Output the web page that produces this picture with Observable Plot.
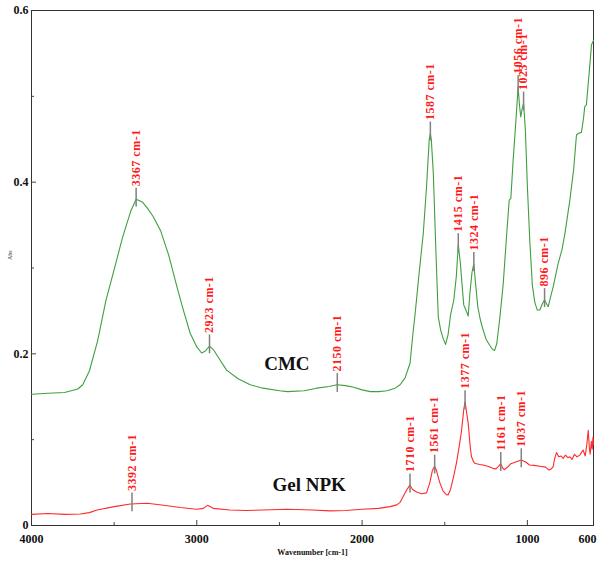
<!DOCTYPE html>
<html><head><meta charset="utf-8">
<script src="https://cdn.jsdelivr.net/npm/d3@7"></script>
<script src="https://cdn.jsdelivr.net/npm/@observablehq/plot@0.6"></script>
<style>body{margin:0;background:#fff} #chart svg{display:block}</style>
</head><body><div id="chart"></div>
<script>
const cmcWavenumber = [4000,3900,3800,3760,3720,3690,3650,3600,3550,3500,3450,3400,3367,3330,3300,3264,3218,3170,3120,3080,3040,3000,2971,2950,2923,2900,2870,2820,2750,2677,2600,2500,2450,2350,2275,2200,2150,2100,2050,2000,1950,1900,1850,1800,1770,1740,1710,1690,1680,1655,1630,1610,1594,1587,1581,1569,1553,1539,1525,1510,1495,1480,1465,1445,1430,1418,1405,1395,1385,1370,1358,1348,1335,1324,1315,1300,1285,1268,1250,1228,1210,1198,1185,1166,1146,1125,1110,1100,1086,1070,1056,1048,1040,1032,1023,1012,1000,985,970,955,940,925,910,896,884,874,860,844,814,790,773,743,720,703,690,673,660,653,643,625,612,600];
const cmcAbs = [0.153,0.154,0.155,0.157,0.159,0.164,0.180,0.215,0.262,0.298,0.335,0.366,0.380,0.377,0.370,0.360,0.343,0.315,0.278,0.250,0.224,0.208,0.201,0.203,0.209,0.205,0.196,0.181,0.171,0.164,0.160,0.157,0.156,0.157,0.160,0.162,0.164,0.163,0.161,0.158,0.156,0.156,0.157,0.160,0.164,0.172,0.189,0.228,0.245,0.294,0.340,0.395,0.449,0.457,0.449,0.410,0.317,0.243,0.228,0.218,0.211,0.222,0.245,0.263,0.290,0.327,0.305,0.280,0.257,0.250,0.244,0.270,0.295,0.305,0.285,0.255,0.240,0.228,0.217,0.210,0.205,0.204,0.212,0.243,0.282,0.340,0.379,0.381,0.426,0.470,0.511,0.490,0.476,0.485,0.492,0.460,0.395,0.330,0.280,0.260,0.251,0.251,0.258,0.263,0.258,0.255,0.266,0.278,0.305,0.322,0.340,0.379,0.415,0.455,0.457,0.458,0.475,0.488,0.490,0.530,0.560,0.565];

const gelWavenumber = [4000,3900,3800,3704,3650,3603,3500,3402,3300,3200,3100,3000,2960,2935,2900,2800,2700,2600,2455,2300,2193,2100,2000,1900,1831,1790,1770,1745,1725,1710,1695,1670,1640,1610,1590,1575,1561,1550,1530,1510,1490,1480,1465,1445,1429,1410,1398,1385,1377,1368,1358,1345,1338,1325,1318,1290,1268,1240,1208,1190,1175,1161,1150,1140,1120,1100,1070,1037,1010,987,960,925,890,869,855,844,835,824,810,795,784,770,755,743,730,715,700,683,670,663,650,640,632,625,620,613,608,603,600];
const gelAbs = [0.013,0.014,0.013,0.0134,0.015,0.018,0.022,0.025,0.026,0.0235,0.021,0.019,0.020,0.0235,0.020,0.018,0.0175,0.018,0.019,0.018,0.017,0.0175,0.019,0.020,0.022,0.024,0.027,0.036,0.043,0.047,0.042,0.039,0.037,0.038,0.050,0.064,0.069,0.064,0.050,0.040,0.036,0.0355,0.042,0.058,0.073,0.095,0.111,0.135,0.144,0.132,0.119,0.090,0.080,0.074,0.0725,0.071,0.0705,0.069,0.0666,0.066,0.069,0.072,0.067,0.065,0.068,0.072,0.074,0.0763,0.074,0.0705,0.070,0.069,0.068,0.0646,0.066,0.0685,0.078,0.085,0.080,0.081,0.078,0.082,0.079,0.080,0.077,0.083,0.080,0.082,0.086,0.088,0.081,0.095,0.111,0.090,0.083,0.098,0.089,0.103,0.094];

const cmcPeakWavenumber = [3367,2923,2150,1587,1418,1324,1056,1023,896];
const cmcPeakAbs = [0.380,0.209,0.164,0.457,0.327,0.305,0.511,0.492,0.263];
const cmcPeakLabels = ["3367 cm-1","2923 cm-1","2150 cm-1","1587 cm-1","1415 cm-1","1324 cm-1","1056 cm-1","1023 cm-1","896 cm-1"];
const gelPeakWavenumber = [3392,1710,1561,1377,1161,1037];
const gelPeakAbs = [0.025,0.047,0.069,0.144,0.072,0.0763];
const gelPeakLabels = ["3392 cm-1","1710 cm-1","1561 cm-1","1377 cm-1","1161 cm-1","1037 cm-1"];

const seriesNames = ["CMC","Gel NPK"];
const seriesNameWavenumber = [2455,2320];
const seriesNameAbs = [0.181,0.040];

const xMajorTicks = [4000,3000,2000,1000,600];
const xMinorTicks = [3500,2500,1500,500];
const yMajorTicks = [0,0.2,0.4,0.6];
const yMinorTicks = [0.1,0.3,0.5];
const xLabel = "Wavenumber [cm-1]";
const yLabel = "Abs";

const cmc = cmcWavenumber.map((w,i)=>({w, a: cmcAbs[i]}));
const gel = gelWavenumber.map((w,i)=>({w, a: gelAbs[i]}));
const peaks = [
  ...cmcPeakWavenumber.map((w,i)=>({w, a: cmcPeakAbs[i], t: cmcPeakLabels[i]})),
  ...gelPeakWavenumber.map((w,i)=>({w, a: gelPeakAbs[i], t: gelPeakLabels[i]}))
];
const names = seriesNames.map((t,i)=>({t, w: seriesNameWavenumber[i], a: seriesNameAbs[i]}));

const serif = "'Liberation Serif','Times New Roman',serif";
const chart = Plot.plot({
  width: 599, height: 562,
  marginLeft: 31, marginRight: 6, marginTop: 10, marginBottom: 37,
  style: {fontFamily: serif, background: "#fff", overflow: "hidden"},
  x: {domain: [4000, 600], axis: null},
  y: {domain: [0, 0.6], axis: null},
  marks: [
    Plot.frame({stroke: "#333"}),
    Plot.axisX(xMajorTicks.filter(d=>d!==4000 && d!==600), {anchor: "bottom", tickSize: -5, tickFormat: () => "", label: null, stroke: "#444"}),
    Plot.axisX(xMinorTicks.filter(d=>d>600), {anchor: "bottom", tickSize: -3, tickFormat: () => "", label: null, stroke: "#444"}),
    Plot.axisX(xMajorTicks.filter(d=>d!==600), {anchor: "bottom", tickSize: 0, tickPadding: 9, tickFormat: d => String(d), label: null, fontSize: 12, fontWeight: "bold", fill: "#111"}),
    Plot.axisX(xMajorTicks.filter(d=>d===600), {anchor: "bottom", tickSize: 0, tickPadding: 9, tickFormat: d => String(d), label: null, fontSize: 12, fontWeight: "bold", fill: "#111", dx: -6}),
    Plot.axisY(yMajorTicks.filter(d=>d>0 && d<0.6), {anchor: "left", tickSize: -5, tickFormat: () => "", label: null, stroke: "#444"}),
    Plot.axisY(yMinorTicks, {anchor: "left", tickSize: -3, tickFormat: () => "", label: null, stroke: "#444"}),
    Plot.axisY(yMajorTicks, {anchor: "left", tickSize: 0, tickPadding: 3, tickFormat: d => d === 0 ? "0" : String(d), label: null, fontSize: 12, fontWeight: "bold", fill: "#111"}),
    Plot.text([xLabel], {frameAnchor: "bottom", text: d => d, dy: 29, fontSize: 8, fontWeight: "bold", fill: "#111"}),
    Plot.text([yLabel], {frameAnchor: "left", text: d => d, dx: -21, dy: -8, rotate: -90, fontSize: 6, fill: "#333"}),
    Plot.line(cmc, {x: "w", y: "a", stroke: "#3f9f3f", strokeWidth: 1.1}),
    Plot.line(gel, {x: "w", y: "a", stroke: "#ff2a2a", strokeWidth: 1.1}),
    Plot.ruleX(peaks, {x: "w", y1: d => d.a - 0.009, y2: d => d.a + 0.013, stroke: "#808080", strokeWidth: 1.5}),
    Plot.text(peaks, {x: "w", y: d => d.a + 0.013, text: "t", rotate: -90, textAnchor: "start", dy: -2, fill: "#ff1a1a", fontSize: 12, fontWeight: "bold"}),
    Plot.text(names, {x: "w", y: "a", text: "t", textAnchor: "middle", lineAnchor: "bottom", fontSize: 19, fontWeight: "bold", fill: "#111"})
  ]
});
d3.select(chart).selectAll("g[fill='#ff1a1a'] text").attr("letter-spacing", "0.5");
document.getElementById("chart").append(chart);
</script>
</body></html>
